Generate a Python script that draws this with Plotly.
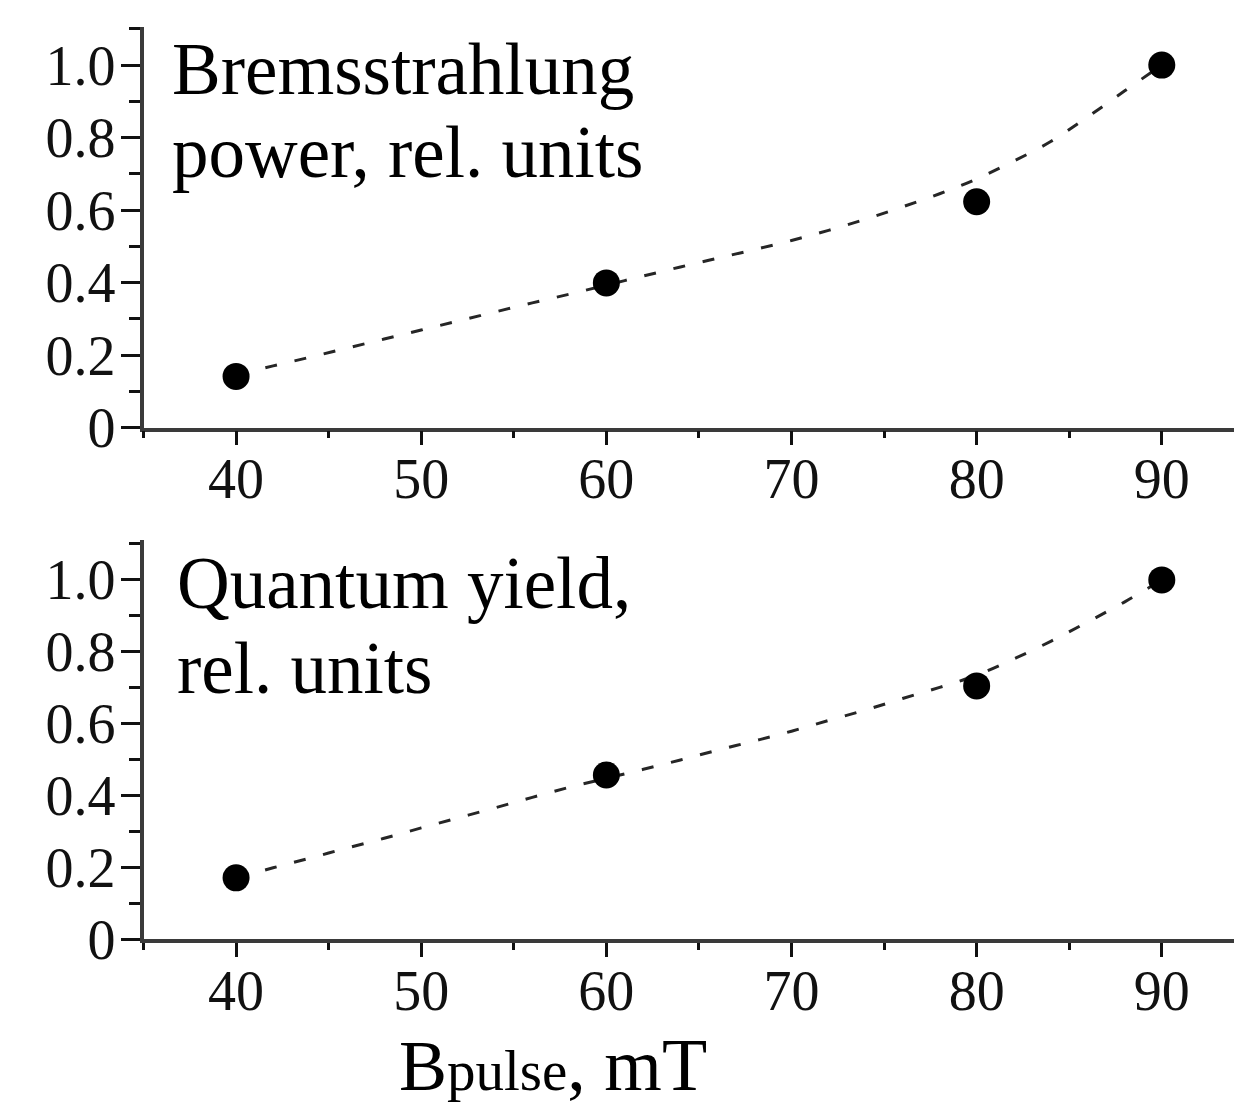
import plotly.graph_objects as go

# ---- data ----
b_pulse = [40, 60, 80, 90]
bremsstrahlung_power = [0.141, 0.399, 0.623, 1.0]
quantum_yield = [0.171, 0.457, 0.705, 1.0]

fit_x = [40, 42, 44, 46, 48, 50, 52, 54, 56, 58, 60, 62, 64, 66, 68, 70,
         72, 74, 76, 78, 80, 82, 84, 86, 88, 90]
fit_brems = [0.146, 0.170, 0.194, 0.219, 0.244, 0.269, 0.294, 0.319, 0.344,
             0.368, 0.393, 0.418, 0.443, 0.467, 0.491, 0.516, 0.544, 0.575,
             0.609, 0.645, 0.686, 0.735, 0.789, 0.857, 0.929, 1.0]
fit_quantum = [0.171, 0.199, 0.226, 0.254, 0.281, 0.310, 0.338, 0.366, 0.395,
               0.423, 0.448, 0.473, 0.499, 0.526, 0.552, 0.579, 0.609, 0.638,
               0.670, 0.701, 0.735, 0.780, 0.829, 0.883, 0.939, 1.0]

x_tick_vals = [40, 50, 60, 70, 80, 90]
x_tick_text = ["40", "50", "60", "70", "80", "90"]
x_minor_vals = [35, 45, 55, 65, 75, 85]
y_tick_vals = [0, 0.2, 0.4, 0.6, 0.8, 1.0]
y_tick_text = ["0", "0.2", "0.4", "0.6", "0.8", "1.0"]
y_minor_vals = [0.1, 0.3, 0.5, 0.7, 0.9, 1.1]

W, H = 1234, 1109
FONT = "Liberation Serif"

fig = go.Figure()

for xa, ya, fit_y, pts in [("x", "y", fit_brems, bremsstrahlung_power),
                           ("x2", "y2", fit_quantum, quantum_yield)]:
    fig.add_trace(go.Scatter(
        x=fit_x, y=fit_y, xaxis=xa, yaxis=ya, mode="lines",
        line=dict(color="#262626", width=3, dash="12px,18px", shape="spline"),
        hoverinfo="skip", showlegend=False))
    fig.add_trace(go.Scatter(
        x=b_pulse, y=pts, xaxis=xa, yaxis=ya, mode="markers",
        marker=dict(color="black", size=27, line=dict(width=0)),
        showlegend=False))

def px_x(p):
    return p / W

def px_y(p):
    return 1 - p / H

x_left = 143.5
xrange_ = [35.0, 93.9]

common_x = dict(
    range=xrange_, showline=True, linecolor="#3a3a3a", linewidth=3.5,
    showgrid=False, zeroline=False, automargin=False,
    tickmode="array", tickvals=x_tick_vals, ticktext=x_tick_text,
    ticks="outside", ticklen=14, tickwidth=3, tickcolor="#111",
    minor=dict(tickmode="array", tickvals=x_minor_vals, ticks="outside",
               ticklen=7, tickwidth=3, tickcolor="#111"),
    tickfont=dict(family=FONT, size=56, color="#111"),
    ticklabelstandoff=-14,
    domain=[px_x(x_left), 1.0],
)
common_y = dict(
    showline=True, linecolor="#3a3a3a", linewidth=3.5,
    showgrid=False, zeroline=False, automargin=False,
    tickmode="array", tickvals=y_tick_vals, ticktext=y_tick_text,
    ticks="outside", ticklen=19, tickwidth=3, tickcolor="#111",
    minor=dict(tickmode="array", tickvals=y_minor_vals, ticks="outside",
               ticklen=11, tickwidth=3, tickcolor="#111"),
    tickfont=dict(family=FONT, size=56, color="#111"),
    ticklabelstandoff=-6,
)

fig.update_layout(
    width=W, height=H,
    margin=dict(l=0, r=0, t=0, b=0, pad=0),
    paper_bgcolor="white", plot_bgcolor="white",
    showlegend=False,
    xaxis=dict(common_x, anchor="y"),
    yaxis=dict(common_y, anchor="x", range=[0, 1.106],
               domain=[px_y(427.5), px_y(26.7)]),
    xaxis2=dict(common_x, anchor="y2"),
    yaxis2=dict(common_y, anchor="x2", range=[0, 1.111],
                domain=[px_y(939.3), px_y(540)]),
)

TS = 73
def text_ann(txt, left, baseline, size=TS):
    center = baseline - 0.3375 * size
    return dict(text=txt, xref="paper", yref="paper",
                x=px_x(left), y=px_y(center), xanchor="left", yanchor="middle",
                showarrow=False, font=dict(family=FONT, size=size, color="black"))

fig.update_layout(annotations=[
    text_ann("Bremsstrahlung", 170, 94),
    text_ann("power, rel. units", 170, 177),
    text_ann("Quantum yield,", 175, 608),
    text_ann("rel. units", 175, 693),
    text_ann("B<span style='font-size:57px'>pulse</span>"
             "<span style='font-size:74px'>, mT</span>", 397, 1089, size=72),
])

fig.write_html("out.html")
